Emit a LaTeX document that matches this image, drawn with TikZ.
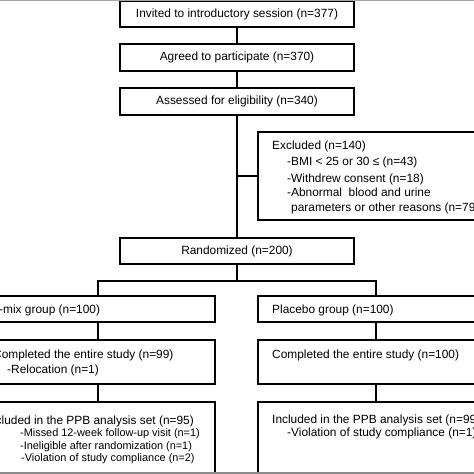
\documentclass[tikz,border=0pt]{standalone}
\usepackage{fontspec}
\setmainfont{Liberation Sans}
\begin{document}
\begin{tikzpicture}[x=1pt,y=-1pt,
  box/.style={draw=black,line width=1.4pt,inner sep=0pt,fill=white},
  wire/.style={draw=black,line width=1.4pt},
  txt/.style={inner sep=0pt,font=\fontsize{11.9}{14}\selectfont},
  stxt/.style={inner sep=0pt,font=\fontsize{10.9}{13}\selectfont}]
\useasboundingbox (0,0) rectangle (474,474);
\clip (0,0) rectangle (474,474);
\fill[white] (0,0) rectangle (474,474);
% main column
\node[box,minimum width=234pt,minimum height=26pt,txt] (inv) at (237,14) {Invited to introductory session (n=377)};
\node[box,minimum width=234pt,minimum height=27pt,txt] (agr) at (237,57.5) {Agreed to participate (n=370)};
\node[box,minimum width=234pt,minimum height=27pt,txt] (ass) at (237,101.5) {Assessed for eligibility (n=340)};
\node[box,minimum width=234pt,minimum height=26pt,txt] (ran) at (237,251) {Randomized (n=200)};
% excluded
\node[box,minimum width=234pt,minimum height=88pt] (exc) at (375,176) {};
\node[txt,anchor=base west] (e1) at (272,149) {Excluded (n=140)};
\node[txt,anchor=base west] (e2) at (287,165.5) {-BMI < 25 or 30 ≤ (n=43)};
\node[txt,anchor=base west] (e3) at (287,182) {-Withdrew consent (n=18)};
\node[txt,anchor=base west] (e4) at (287,196.5) {-Abnormal\ \ blood and urine};
\node[txt,anchor=base west] (e5) at (291,211.5) {parameters or other reasons (n=79)};
% groups
\node[box,minimum width=234pt,minimum height=26pt] (gl) at (98,309) {};
\node[box,minimum width=236pt,minimum height=26pt] (gr) at (376,309) {};
\node[txt,anchor=base west] (glt) at (-1,313.3) {-mix group (n=100)};
\node[txt,anchor=base west] (grt) at (272,313.3) {Placebo group (n=100)};
% completed
\node[box,minimum width=234pt,minimum height=44pt] (cl) at (98,362) {};
\node[box,minimum width=236pt,minimum height=44pt] (cr) at (376,362) {};
\node[txt,anchor=base west] (cl1) at (-7,358.3) {Completed the entire study (n=99)};
\node[txt,anchor=base west] (cl2) at (7,373.3) {-Relocation (n=1)};
\node[txt,anchor=base west] (cr1) at (272,358.3) {Completed the entire study (n=100)};
% PPB
\node[box,minimum width=234pt,minimum height=71pt] (pl) at (98,437.5) {};
\node[box,minimum width=236pt,minimum height=71pt] (pr) at (376,437.5) {};
\node[txt,anchor=base east] (pl1) at (194,424.3) {Included in the PPB analysis set (n=95)};
\node[stxt,anchor=base west] (pl2) at (20,436.7) {-Missed 12-week follow-up visit (n=1)};
\node[stxt,anchor=base west] (pl3) at (20,449.2) {-Ineligible after randomization (n=1)};
\node[stxt,anchor=base west] (pl4) at (21,461.5) {-Violation of study compliance (n=2)};
\node[txt,anchor=base west] (pr1) at (272,423.3) {Included in the PPB analysis set (n=99)};
\node[txt,anchor=base west] (pr2) at (287,436) {-Violation of study compliance (n=1)};
% connectors
\draw[wire] (inv) -- (agr);
\draw[wire] (agr) -- (ass);
\draw[wire] (ass) -- (ran);
\draw[wire] (ass.south |- exc.west) -- (exc.west);
\coordinate (sp) at (237,281);
\draw[wire] (ran) -- (sp);
\draw[wire] (gl.north) |- (sp) -| (gr.north);
\draw[wire] (gl) -- (cl);
\draw[wire] (gr) -- (cr);
\draw[wire] (cl) -- (pl);
\draw[wire] (cr) -- (pr);
\fill[black!45] (0,471.5) rectangle (474,474);
\fill[black!35] (0,0) rectangle (474,0.8);
\end{tikzpicture}
\end{document}
